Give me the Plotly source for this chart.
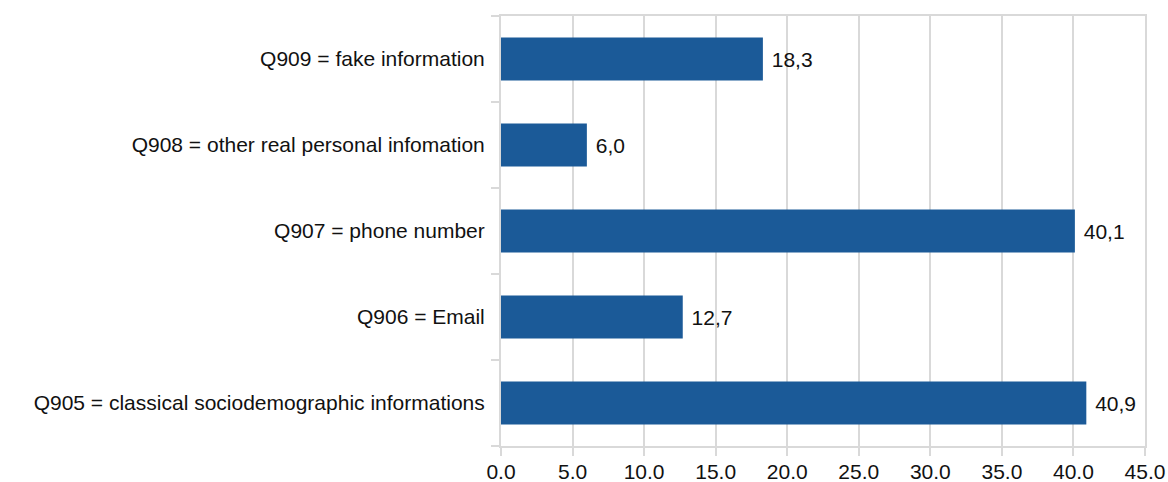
import plotly.graph_objects as go

categories = [
    "Q905 = classical sociodemographic informations",
    "Q906 = Email",
    "Q907 = phone number",
    "Q908 = other real personal infomation",
    "Q909 = fake information",
]
values = [40.9, 12.7, 40.1, 6.0, 18.3]
x_ticks = [0, 5, 10, 15, 20, 25, 30, 35, 40, 45]
x_tick_labels = ["0.0", "5.0", "10.0", "15.0", "20.0", "25.0", "30.0", "35.0", "40.0", "45.0"]

# value labels use a decimal comma, with a small lead-in gap from the bar end
labels = [" " + f"{v:.1f}".replace(".", ",") for v in values]
font = "Liberation Sans, Arial, sans-serif"
grid = "#d9d9d9"
size = 21

fig = go.Figure(
    go.Bar(
        x=values,
        y=categories,
        orientation="h",
        marker=dict(color="#1b5a98", line=dict(width=0)),
        text=labels,
        textposition="outside",
        textfont=dict(family=font, size=size, color="#111111"),
        cliponaxis=False,
    )
)

fig.update_layout(
    width=1168,
    height=482,
    margin=dict(l=501, r=23, t=16, b=36),
    paper_bgcolor="white",
    plot_bgcolor="white",
    bargap=0.5,
    showlegend=False,
    font=dict(family=font, size=size, color="#111111"),
)

fig.update_xaxes(
    range=[0, 45],
    tickvals=x_ticks,
    ticktext=x_tick_labels,
    showgrid=True,
    gridcolor=grid,
    gridwidth=2,
    showline=True,
    linecolor=grid,
    linewidth=2,
    mirror=True,
    ticks="outside",
    ticklen=8,
    tickwidth=2,
    tickcolor=grid,
    zeroline=False,
    ticklabelstandoff=-2,
    automargin=False,
    tickfont=dict(size=size),
)

fig.update_yaxes(
    type="category",
    categoryorder="array",
    categoryarray=categories,
    tickson="boundaries",
    ticks="outside",
    ticklen=8,
    tickwidth=2,
    tickcolor=grid,
    showgrid=False,
    showline=True,
    linecolor=grid,
    linewidth=2,
    mirror=True,
    ticklabelstandoff=10,
    automargin=False,
    tickfont=dict(size=size),
)

fig.write_html("out.html")
